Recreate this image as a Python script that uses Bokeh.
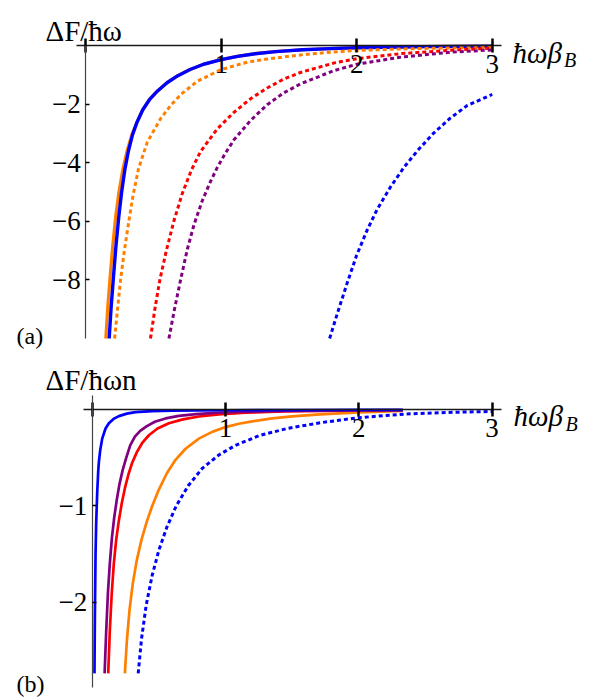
from bokeh.plotting import figure
from bokeh.models import Range1d, LinearAxis, FixedTicker, Label
from bokeh.layouts import column
from bokeh.embed import file_html
from bokeh.resources import INLINE

# ---------------- data: panel (a) ----------------
a_blue_solid_x = [0.173, 0.188, 0.203, 0.222, 0.245, 0.265, 0.29, 0.315, 0.345, 0.38, 0.42, 0.47, 0.53, 0.60, 0.68, 0.77, 0.87, 1.0, 1.12, 1.25, 1.4, 1.6, 1.8, 2.0, 2.5, 3.0]
a_blue_solid_y = [-10.0, -8.9, -8.0, -6.9, -5.8, -5.0, -4.2, -3.6, -3.05, -2.6, -2.2, -1.85, -1.55, -1.27, -1.03, -0.82, -0.64, -0.48, -0.37, -0.28, -0.21, -0.145, -0.105, -0.075, -0.04, -0.02]

a_orange_solid_x = [0.148, 0.163, 0.178, 0.198, 0.222, 0.245, 0.275, 0.305, 0.34, 0.38, 0.42, 0.47, 0.53, 0.60, 0.68, 0.77, 0.87, 1.0, 1.12, 1.25, 1.4, 1.6, 1.8, 2.0, 2.5, 3.0]
a_orange_solid_y = [-10.0, -8.9, -8.0, -6.9, -5.8, -5.0, -4.2, -3.6, -3.05, -2.6, -2.2, -1.85, -1.55, -1.27, -1.03, -0.82, -0.64, -0.48, -0.37, -0.28, -0.21, -0.145, -0.105, -0.075, -0.04, -0.02]

a_orange_dot_x = [0.213, 0.235, 0.257, 0.285, 0.318, 0.35, 0.39, 0.454, 0.552, 0.626, 0.70, 0.823, 1.0, 1.19, 1.34, 1.59, 1.83, 2.0, 2.3, 2.6, 3.0]
a_orange_dot_y = [-10.0, -9.0, -8.0, -7.0, -6.0, -5.1, -4.2, -3.3, -2.5, -2.05, -1.68, -1.22, -0.82, -0.57, -0.46, -0.32, -0.22, -0.17, -0.12, -0.09, -0.065]

a_red_dot_x = [0.478, 0.51, 0.547, 0.595, 0.65, 0.712, 0.78, 0.847, 0.97, 1.094, 1.216, 1.339, 1.46, 1.585, 1.83, 2.0, 2.32, 2.69, 3.0]
a_red_dot_y = [-10.0, -9.0, -8.0, -7.0, -6.0, -5.06, -4.25, -3.62, -2.85, -2.28, -1.82, -1.45, -1.15, -0.92, -0.60, -0.45, -0.28, -0.16, -0.09]

a_purple_dot_x = [0.614, 0.655, 0.70, 0.75, 0.80, 0.86, 0.92, 0.97, 1.03, 1.094, 1.216, 1.339, 1.46, 1.585, 1.83, 2.0, 2.32, 2.69, 3.0]
a_purple_dot_y = [-10.0, -9.0, -8.0, -6.95, -6.1, -5.3, -4.65, -4.17, -3.68, -3.22, -2.56, -2.02, -1.62, -1.31, -0.86, -0.64, -0.40, -0.23, -0.15]

a_blue_dot_x = [1.80, 1.856, 1.93, 2.0, 2.077, 2.15, 2.25, 2.35, 2.45, 2.57, 2.69, 2.815, 3.0]
a_blue_dot_y = [-10.0, -9.16, -8.1, -7.15, -6.3, -5.6, -4.82, -4.15, -3.58, -2.98, -2.48, -2.05, -1.67]

# ---------------- data: panel (b) ----------------
b_blue_solid_x = [0.017, 0.02, 0.025, 0.03, 0.0375, 0.045, 0.05, 0.06, 0.075, 0.1, 0.125, 0.16, 0.2, 0.26, 0.325, 0.45, 0.6, 0.8, 1.0, 1.5, 2.0, 2.33]
b_blue_solid_y = [-2.74, -2.15, -1.5, -1.17, -0.86, -0.64, -0.545, -0.42, -0.30, -0.195, -0.14, -0.095, -0.066, -0.04, -0.025, -0.015, -0.01, -0.007, -0.005, -0.003, -0.002, -0.002]

b_purple_x = [0.093, 0.105, 0.118, 0.132, 0.148, 0.165, 0.185, 0.205, 0.228, 0.255, 0.285, 0.32, 0.36, 0.41, 0.47, 0.55, 0.65, 0.78, 0.92, 1.1, 1.4, 1.8, 2.33]
b_purple_y = [-2.74, -2.3, -1.9, -1.6, -1.33, -1.12, -0.93, -0.77, -0.63, -0.5, -0.37, -0.28, -0.22, -0.17, -0.125, -0.09, -0.063, -0.045, -0.033, -0.023, -0.013, -0.007, -0.004]

b_red_x = [0.12, 0.132, 0.146, 0.162, 0.18, 0.2, 0.222, 0.246, 0.272, 0.30, 0.335, 0.375, 0.425, 0.49, 0.575, 0.68, 0.8, 0.95, 1.15, 1.45, 1.9, 2.33]
b_red_y = [-2.74, -2.3, -1.92, -1.6, -1.35, -1.15, -0.97, -0.81, -0.67, -0.55, -0.44, -0.345, -0.265, -0.195, -0.14, -0.1, -0.07, -0.048, -0.031, -0.018, -0.009, -0.005]

b_orange_x = [0.245, 0.26, 0.28, 0.305, 0.335, 0.37, 0.41, 0.45, 0.5, 0.56, 0.625, 0.7, 0.8, 0.9, 1.0, 1.1, 1.2, 1.35, 1.5, 1.71, 2.0, 2.33]
b_orange_y = [-2.74, -2.4, -2.08, -1.8, -1.56, -1.35, -1.16, -1.0, -0.83, -0.66, -0.52, -0.405, -0.3, -0.23, -0.18, -0.145, -0.12, -0.09, -0.068, -0.048, -0.028, -0.013]

b_blue_dot_x = [0.345, 0.37, 0.405, 0.45, 0.5, 0.56, 0.63, 0.72, 0.825, 0.95, 1.075, 1.25, 1.46, 1.71, 2.0, 2.34, 2.71, 3.0]
b_blue_dot_y = [-2.74, -2.38, -2.03, -1.72, -1.46, -1.22, -1.0, -0.79, -0.61, -0.47, -0.37, -0.27, -0.195, -0.135, -0.082, -0.045, -0.026, -0.018]

# ---------------- ticks ----------------
x_ticks = [0, 1, 2, 3]
x_tick_labels = ["", "1", "2", "3"]
a_y_ticks = [-2, -4, -6, -8]
a_y_tick_labels = ["\u22122", "\u22124", "\u22126", "\u22128"]
b_y_ticks = [-1, -2]
b_y_tick_labels = ["\u22121", "\u22122"]

FONT = "Liberation Serif, Times New Roman, DejaVu Serif, serif"
ORANGE = "#FF8000"
RED = "#FF0000"
PURPLE = "#800080"
BLUE = "#0000FF"


def make_fig(xr, yr):
    p = figure(width=600, height=350, x_range=Range1d(*xr), y_range=Range1d(*yr),
               x_axis_type=None, y_axis_type=None, toolbar_location=None,
               output_backend="svg", min_border=0, outline_line_color=None)
    p.background_fill_color = "white"
    p.border_fill_color = "white"
    return p


def add_axes(p, xbounds, ybounds, yticks, ylabels):
    xa = LinearAxis(fixed_location=0, bounds=xbounds, ticker=FixedTicker(ticks=x_ticks),
                    major_label_overrides=dict(zip(x_ticks, x_tick_labels)))
    xa.axis_line_width = 1.6
    xa.axis_line_color = "#1a1a1a"
    xa.major_tick_in = 7
    xa.major_tick_out = 7
    xa.major_tick_line_width = 2.5
    xa.major_tick_line_color = "black"
    xa.minor_tick_in = 0
    xa.minor_tick_out = 0
    xa.major_label_text_font = FONT
    xa.major_label_text_font_size = "27px"
    xa.major_label_text_color = "black"
    xa.major_label_standoff = 2
    p.add_layout(xa, "below")

    ya = LinearAxis(fixed_location=0, bounds=ybounds, ticker=FixedTicker(ticks=yticks),
                    major_label_overrides=dict(zip(yticks, ylabels)))
    ya.axis_line_width = 1.2
    ya.axis_line_color = "#444444"
    ya.major_tick_in = 4
    ya.major_tick_out = 0
    ya.major_tick_line_width = 1.5
    ya.major_tick_line_color = "black"
    ya.minor_tick_in = 0
    ya.minor_tick_out = 0
    ya.major_label_text_font = FONT
    ya.major_label_text_font_size = "27px"
    ya.major_label_text_color = "black"
    ya.major_label_standoff = 5
    p.add_layout(ya, "left")


def add_text(p, x, y, text, size="29px", style="normal", baseline="alphabetic"):
    p.add_layout(Label(x=x, y=y, text=text, text_font=FONT, text_font_size=size,
                       text_font_style=style, text_baseline=baseline, text_align="left",
                       text_color="black"))


# ---------------- panel (a) ----------------
pa = make_fig((-0.629, 3.799), (-10.41, 1.536))
pa.line(a_orange_solid_x, a_orange_solid_y, line_color=ORANGE, line_width=3.2)
pa.line(a_blue_solid_x, a_blue_solid_y, line_color=BLUE, line_width=3.4)
pa.line(a_orange_dot_x, a_orange_dot_y, line_color=ORANGE, line_width=3, line_dash="4 3")
pa.line(a_red_dot_x, a_red_dot_y, line_color=RED, line_width=3, line_dash="4 3")
pa.line(a_purple_dot_x, a_purple_dot_y, line_color=PURPLE, line_width=3, line_dash="4 3")
pa.line(a_blue_dot_x, a_blue_dot_y, line_color=BLUE, line_width=3, line_dash="4 3")
add_axes(pa, (-0.066, 3.066), (-10.0, 0.0), a_y_ticks, a_y_tick_labels)
add_text(pa, -0.297, 0.51, "\u0394F/\u0127\u03c9")
add_text(pa, 3.15, -0.24, "\u0127\u03c9\u03b2", size="29px", style="italic")
add_text(pa, 3.53, -0.50, "B", size="20px", style="italic")
add_text(pa, -0.51, -9.9, "(a)", size="24px", baseline="middle")

# ---------------- panel (b) ----------------
pb = make_fig((-0.688, 3.813), (-3.022, 0.616))
pb.line(b_orange_x, b_orange_y, line_color=ORANGE, line_width=2.7)
pb.line(b_red_x, b_red_y, line_color=RED, line_width=2.7)
pb.line(b_purple_x, b_purple_y, line_color=PURPLE, line_width=2.7)
pb.line(b_blue_solid_x, b_blue_solid_y, line_color=BLUE, line_width=2.7)
pb.line(b_blue_dot_x, b_blue_dot_y, line_color=BLUE, line_width=3, line_dash="4 3")
add_axes(pb, (-0.063, 3.07), (-2.887, 0.15), b_y_ticks, b_y_tick_labels)
add_text(pb, -0.35, 0.305, "\u0394F/\u0127\u03c9n")
add_text(pb, 3.16, -0.07, "\u0127\u03c9\u03b2", size="29px", style="italic")
add_text(pb, 3.55, -0.15, "B", size="20px", style="italic")
add_text(pb, -0.568, -2.855, "(b)", size="24px", baseline="middle")

layout = column(pa, pb, spacing=0)
open("out.html", "w").write(file_html(layout, INLINE))
